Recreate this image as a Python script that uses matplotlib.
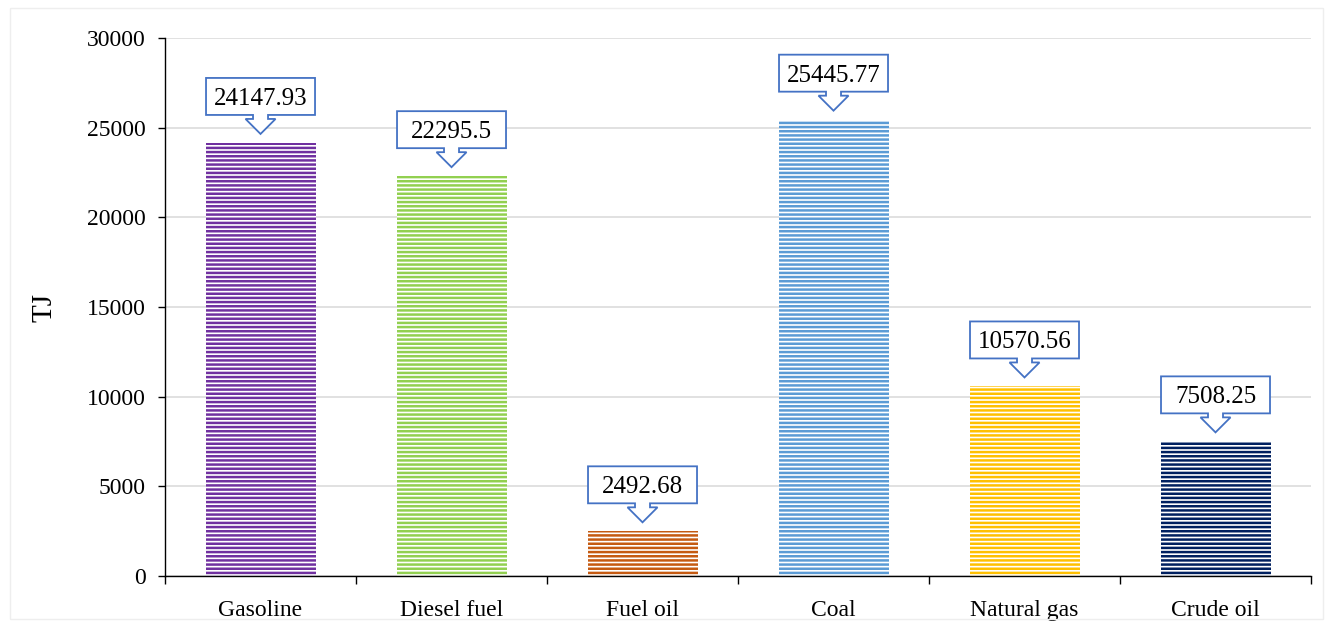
import matplotlib
matplotlib.use("Agg")
import matplotlib.pyplot as plt
import matplotlib.transforms as mtransforms
from matplotlib.patches import Polygon, Rectangle

categories = ["Gasoline", "Diesel fuel", "Fuel oil", "Coal", "Natural gas", "Crude oil"]
values = [24147.93, 22295.5, 2492.68, 25445.77, 10570.56, 7508.25]
labels = ["24147.93", "22295.5", "2492.68", "25445.77", "10570.56", "7508.25"]
colors = ["#7030A0", "#92D050", "#C55A11", "#5B9BD5", "#FFC000", "#002060"]
y_ticks = [0, 5000, 10000, 15000, 20000, 25000, 30000]

plt.rcParams["font.family"] = ["Liberation Serif", "DejaVu Serif"]
plt.rcParams["hatch.linewidth"] = 1.8

fig = plt.figure(figsize=(13.33, 6.27), dpi=100)
ax = fig.add_axes([0.1238, 0.0813, 0.8597, 0.8581])

# faint frame around the whole chart area
fig.patches.append(Rectangle((0.0075, 0.012), 0.985, 0.975, transform=fig.transFigure,
                             fill=False, edgecolor="#EEEEEE", linewidth=1.0))

x = list(range(len(categories)))
for xi, v, c in zip(x, values, colors):
    ax.bar(xi, v, width=0.576, color="white", edgecolor=c, linewidth=0,
           hatch="----", zorder=2)

ax.set_xlim(-0.5, len(categories) - 0.5)
ax.set_ylim(0, 30000)
ax.set_yticks(y_ticks)
ax.set_yticklabels([str(t) for t in y_ticks])
ax.grid(axis="y", color="#D9D9D9", linewidth=1.1, zorder=0)
ax.set_axisbelow(True)

ax.spines["top"].set_visible(False)
ax.spines["right"].set_visible(False)
ax.spines["left"].set_linewidth(1.0)
ax.spines["bottom"].set_linewidth(1.0)

ax.set_xticks(x)
ax.set_xticklabels(categories)
ax.set_xticks([i - 0.5 for i in range(len(categories) + 1)], minor=True)
ax.tick_params(axis="x", which="major", length=0, pad=17, labelsize=17)
ax.tick_params(axis="x", which="minor", length=6, width=1.0, direction="out")
ax.tick_params(axis="y", length=5, width=1.0, pad=9, labelsize=17)

ax.set_ylabel("TJ", fontsize=21)
ax.yaxis.set_label_coords(-0.094, 0.5)

# down-arrow callouts, shape given in pixels relative to the bar top
box_w, box_top, box_bot = 109, 65, 28
shaft_w, head_w, head_top, tip = 15, 30, 24, 9
shape = [
    (-box_w / 2, box_top), (box_w / 2, box_top), (box_w / 2, box_bot),
    (shaft_w / 2, box_bot), (shaft_w / 2, head_top), (head_w / 2, head_top),
    (0, tip), (-head_w / 2, head_top), (-shaft_w / 2, head_top),
    (-shaft_w / 2, box_bot), (-box_w / 2, box_bot),
]
for xi, v, lab in zip(x, values, labels):
    trans = mtransforms.Affine2D() + mtransforms.ScaledTranslation(xi, v, ax.transData)
    ax.add_patch(Polygon(shape, closed=True, transform=trans, facecolor="white",
                         edgecolor="#4472C4", linewidth=1.3, zorder=4, clip_on=False))
    ttrans = mtransforms.Affine2D().translate(0, (box_top + box_bot) / 2) + \
        mtransforms.ScaledTranslation(xi, v, ax.transData)
    ax.text(0, 0, lab, transform=ttrans, ha="center", va="center_baseline",
            fontsize=18, zorder=5)

fig.savefig("out.png", dpi=100)
